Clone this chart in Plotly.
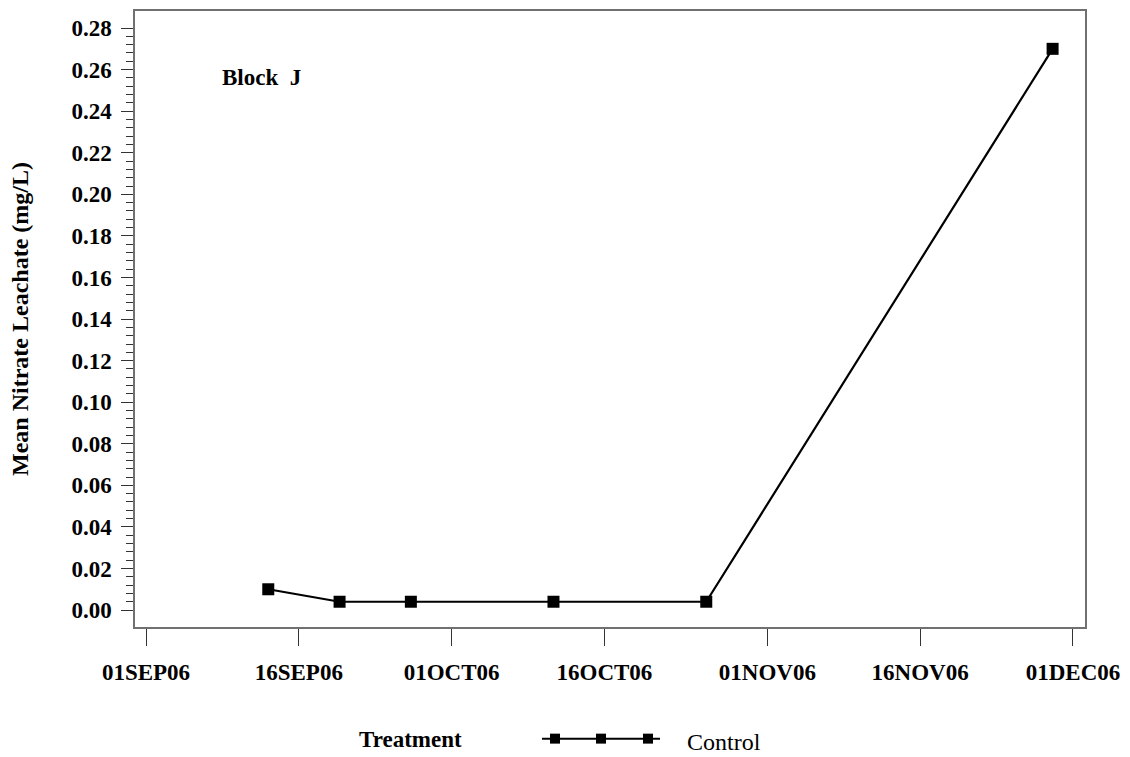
import plotly.graph_objects as go
import numpy as np

# Sampling dates and mean nitrate concentration for the control plots
dates = ["2006-09-13", "2006-09-20", "2006-09-27", "2006-10-11", "2006-10-26", "2006-11-29"]
nitrate = [0.010, 0.004, 0.004, 0.004, 0.004, 0.270]

x_tick_vals = ["2006-09-01", "2006-09-16", "2006-10-01", "2006-10-16",
               "2006-11-01", "2006-11-16", "2006-12-01"]
x_tick_text = ["01SEP06", "16SEP06", "01OCT06", "16OCT06",
               "01NOV06", "16NOV06", "01DEC06"]
y_tick_vals = [round(v, 2) for v in np.arange(0, 0.281, 0.02)]
y_minor_vals = [round(v, 3) for v in np.arange(0, 0.2801, 0.004)]

FONT = "Liberation Serif"

fig = go.Figure()
fig.add_trace(go.Scatter(
    x=dates, y=nitrate, mode="lines+markers", name="Control",
    line=dict(color="black", width=2.2),
    marker=dict(symbol="square", size=12, color="black"),
    showlegend=False,
))

fig.update_layout(
    width=1130, height=757,
    margin=dict(l=135, r=45, t=9, b=130),
    paper_bgcolor="white", plot_bgcolor="white",
    font=dict(family=FONT, color="black", size=20),
    xaxis=dict(
        type="date",
        range=["2006-08-30 22:00", "2006-12-02 04:20"],
        tickvals=x_tick_vals, ticktext=x_tick_text,
        ticks="outside", ticklen=17, tickcolor="#333",
        tickfont=dict(family=FONT, size=23, weight="bold"),
        ticklabelstandoff=7,
        showline=True, linecolor="#707070", linewidth=1.5, mirror=True,
        showgrid=False, zeroline=False,
    ),
    yaxis=dict(
        range=[-0.00815, 0.2882],
        tickvals=y_tick_vals, tickformat=".2f",
        ticks="outside", ticklen=12, tickcolor="#333",
        minor=dict(tickvals=y_minor_vals, ticks="outside", ticklen=7, tickcolor="#333"),
        tickfont=dict(family=FONT, size=23, weight="bold"),
        ticklabelstandoff=5,
        showline=True, linecolor="#707070", linewidth=1.5, mirror=True,
        showgrid=False, zeroline=False,
        title=dict(text="Mean Nitrate Leachate (mg/L)",
                   font=dict(family=FONT, size=24, weight="bold"), standoff=36),
    ),
)


# Convert pixel positions to paper fractions for items placed outside the data
def px(xp):
    return (xp - 135) / (1085 - 135)


def py(yp):
    return (627 - yp) / (627 - 9)


# Panel label
fig.add_annotation(x=px(220), y=py(76), xref="paper", yref="paper", text="Block&nbsp; J",
                   showarrow=False, xanchor="left", yanchor="middle",
                   font=dict(family=FONT, size=23, weight="bold"))

# Legend drawn below the axis: label, line sample with three squares, series name
fig.add_annotation(x=px(357), y=py(740), xref="paper", yref="paper", text="Treatment",
                   showarrow=False, xanchor="left", yanchor="middle",
                   font=dict(family=FONT, size=23, weight="bold"))
fig.add_annotation(x=px(685), y=py(742), xref="paper", yref="paper", text="Control",
                   showarrow=False, xanchor="left", yanchor="middle",
                   font=dict(family=FONT, size=24))

fig.add_shape(type="line", xref="paper", yref="paper",
              x0=px(542), x1=px(660), y0=py(739), y1=py(739),
              line=dict(color="black", width=2))
for cx in (555, 601, 648):
    fig.add_shape(type="rect", xref="paper", yref="paper",
                  x0=px(cx - 5), x1=px(cx + 5), y0=py(739 - 5), y1=py(739 + 5),
                  fillcolor="black", line=dict(width=0))

fig.write_html("out.html")
